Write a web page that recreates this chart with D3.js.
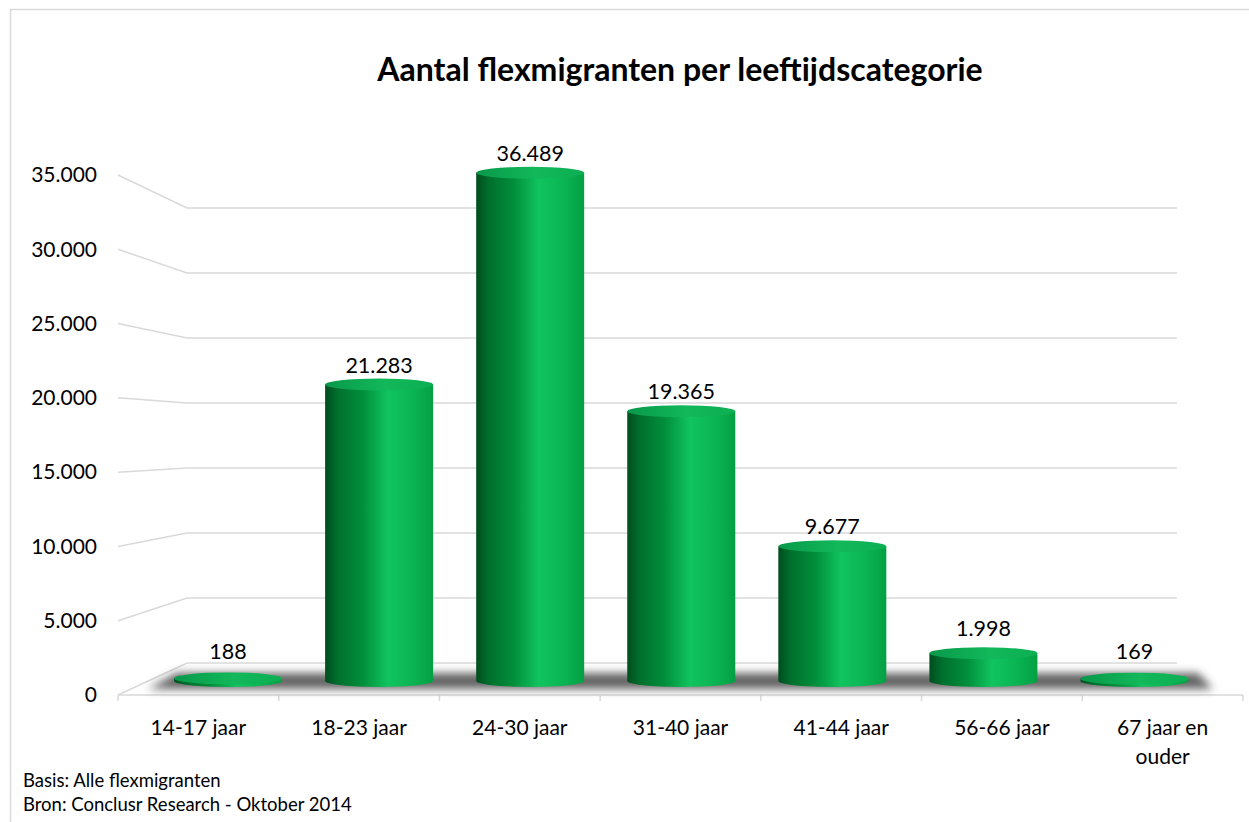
<!DOCTYPE html>
<html>
<head>
<meta charset="utf-8">
<script src="https://cdn.jsdelivr.net/npm/d3@7"></script>
<style>
  body { margin: 0; background: #fff; }
  svg text { font-family: Lato, "Open Sans", sans-serif; fill: #000; }
</style>
</head>
<body>
<div id="chart"></div>
<script>
// data
var categories = ["14-17 jaar", "18-23 jaar", "24-30 jaar", "31-40 jaar", "41-44 jaar", "56-66 jaar", "67 jaar en ouder"]
var values = [188, 21283, 36489, 19365, 9677, 1998, 169]
var yTicks = [0, 5000, 10000, 15000, 20000, 25000, 30000, 35000]
var title = "Aantal flexmigranten per leeftijdscategorie"
var notes = ["Basis: Alle flexmigranten", "Bron: Conclusr Research - Oktober 2014"]

var width = 1249, height = 822

var svg = d3.select("#chart").append("svg")
    .attr("width", width)
    .attr("height", height)

var defs = svg.append("defs")

var grad = defs.append("linearGradient").attr("id", "cyl")
    .attr("x1", "0%").attr("x2", "100%").attr("y1", "0%").attr("y2", "0%")
grad.selectAll("stop")
    .data([[0, "#004d1f"], [0.12, "#00702d"], [0.35, "#018f3c"], [0.58, "#10c45f"], [0.8, "#0bb553"], [1, "#04a043"]])
    .enter().append("stop")
    .attr("offset", d => d[0])
    .attr("stop-color", d => d[1])

var topGrad = defs.append("linearGradient").attr("id", "cylTop")
    .attr("x1", "0%").attr("x2", "100%").attr("y1", "0%").attr("y2", "0%")
topGrad.selectAll("stop")
    .data([[0, "#08984a"], [0.55, "#12b85a"], [1, "#0caf53"]])
    .enter().append("stop")
    .attr("offset", d => d[0])
    .attr("stop-color", d => d[1])

defs.append("filter").attr("id", "blur")
    .attr("x", "-20%").attr("y", "-200%").attr("width", "140%").attr("height", "500%")
    .append("feGaussianBlur").attr("stdDeviation", 4)

// frame
svg.append("rect")
    .attr("x", 10.5).attr("y", 9.5)
    .attr("width", width + 10).attr("height", height + 10)
    .attr("fill", "none").attr("stroke", "#d9d9d9").attr("stroke-width", 1.5)

// perspective scales: front plane, back plane, bars sit half way
var n = categories.length
var xFront = d3.scaleLinear().domain([0, n]).range([118, 1243])
var xBack = d3.scaleLinear().domain([0, n]).range([187, 1177])
var yFront = d3.scaleLinear().domain([0, 35000]).range([695, 175])
var yBack = d3.scaleLinear().domain([0, 35000]).range([663, 208])
var xMid = d => (xFront(d) + xBack(d)) / 2
var yMid = d => (yFront(d) + yBack(d)) / 2 + 2

// gridlines (wall + back)
svg.append("g").selectAll("path")
    .data(yTicks)
    .enter().append("path")
    .attr("fill", "none")
    .attr("stroke", "#d9d9d9")
    .attr("stroke-width", 1.5)
    .attr("d", d => d3.line()([[xFront(0), yFront(d)], [xBack(0), yBack(d)], [xBack(n), yBack(d)]]))

// front axis line + ticks
svg.append("line")
    .attr("x1", xFront(0)).attr("x2", xFront(n))
    .attr("y1", yFront(0)).attr("y2", yFront(0))
    .attr("stroke", "#d9d9d9").attr("stroke-width", 1.5)
svg.append("g").selectAll("line")
    .data(d3.range(n + 1))
    .enter().append("line")
    .attr("x1", d => xFront(d)).attr("x2", d => xFront(d))
    .attr("y1", yFront(0)).attr("y2", yFront(0) + 6)
    .attr("stroke", "#d9d9d9").attr("stroke-width", 1.5)

// y tick labels
svg.append("g").selectAll("text")
    .data(yTicks)
    .enter().append("text")
    .attr("x", 97)
    .attr("y", d => yFront(d))
    .attr("dy", "0.35em")
    .attr("text-anchor", "end")
    .style("font-size", "21px")
    .text(d => d3.format(",")(d).replace(/,/g, "."))

// floor shadow
var y0 = yMid(0)
svg.append("path")
    .attr("d", d3.line()([[xFront(0) + 30, y0 + 8], [xMid(0) + 24, y0 - 8], [xMid(n) - 12, y0 - 8], [xFront(n) - 30, y0 + 8]]) + "Z")
    .attr("fill", "#3c3c3c")
    .attr("opacity", 0.8)
    .attr("filter", "url(#blur)")

// cylinders
var rx = 54, ry = 6
var bars = svg.append("g").selectAll("g")
    .data(values)
    .enter().append("g")

bars.append("path")
    .attr("fill", "url(#cyl)")
    .attr("d", (d, i) => {
        var cx = xMid(i + 0.5), top = yMid(d)
        return "M" + (cx - rx) + "," + top +
            "L" + (cx - rx) + "," + y0 +
            "A" + rx + "," + ry + " 0 0 0 " + (cx + rx) + "," + y0 +
            "L" + (cx + rx) + "," + top + "Z"
    })

bars.append("ellipse")
    .attr("cx", (d, i) => xMid(i + 0.5))
    .attr("cy", d => yMid(d))
    .attr("rx", rx).attr("ry", ry)
    .attr("fill", "url(#cylTop)")

// value labels
var labelOffset = d3.scaleLinear().domain([0, 5000, 40000]).range([27, 20, 19]).clamp(true)
svg.append("g").selectAll("text")
    .data(values)
    .enter().append("text")
    .attr("x", (d, i) => xMid(i + 0.5))
    .attr("y", d => yMid(d) - labelOffset(d))
    .attr("dy", "0.35em")
    .attr("text-anchor", "middle")
    .style("font-size", "21.5px")
    .text(d => d3.format(",")(d).replace(/,/g, "."))

// category labels (wrap)
var catLabels = svg.append("g").selectAll("text")
    .data(categories)
    .enter().append("text")
    .attr("text-anchor", "middle")
    .style("font-size", "21px")
    .attr("y", 735)
catLabels.each(function(d, i) {
    var lines = d.length > 12 ? ["67 jaar en", "ouder"] : [d]
    d3.select(this).selectAll("tspan")
        .data(lines)
        .enter().append("tspan")
        .attr("x", (xFront(i) + xFront(i + 1)) / 2)
        .attr("dy", (l, j) => j == 0 ? 0 : 29)
        .text(l => l)
})

// title
svg.append("text")
    .attr("x", 680)
    .attr("y", 81)
    .attr("text-anchor", "middle")
    .style("font-size", "32px")
    .style("font-weight", "bold")
    .text(title)

// notes
svg.append("g").selectAll("text")
    .data(notes)
    .enter().append("text")
    .attr("x", 23)
    .attr("y", (d, i) => 787 + i * 24)
    .style("font-size", "18.5px")
    .text(d => d)
</script>
</body>
</html>
